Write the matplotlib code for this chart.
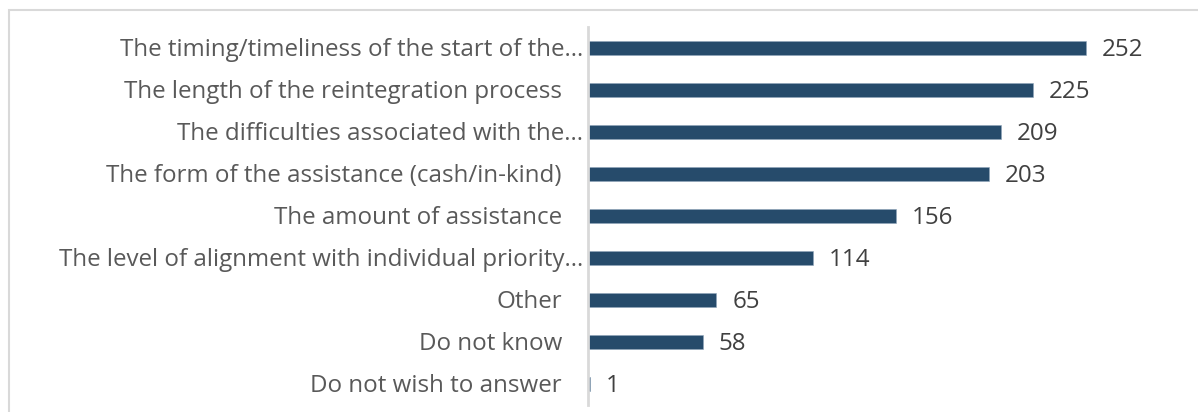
import matplotlib
matplotlib.use("Agg")
import matplotlib.pyplot as plt
from matplotlib.patches import Rectangle

plt.rcParams["font.family"] = ["Open Sans", "DejaVu Sans"]

categories = [
    "The timing/timeliness of the start of the\u2026",
    "The length of the reintegration process",
    "The difficulties associated with the\u2026",
    "The form of the assistance (cash/in-kind)",
    "The amount of assistance",
    "The level of alignment with individual priority\u2026",
    "Other",
    "Do not know",
    "Do not wish to answer",
]
values = [252, 225, 209, 203, 156, 114, 65, 58, 1]

W, H = 1198, 412
fig = plt.figure(figsize=(W / 100, H / 100), dpi=100)

# light frame around the chart area
fig.patches.append(Rectangle((8.5 / W, -0.1), 1.2, 1.1 - 10.5 / H,
                             transform=fig.transFigure, fill=False,
                             edgecolor="#D9D9D9", linewidth=1.5))

ax = fig.add_axes([588 / W, 7 / H, 610 / W, 378 / H])
n = len(categories)
ypos = list(range(n))
bar_color = "#264B6B"
ax.barh(ypos, values, height=0.31, color=bar_color, edgecolor="#8FA5BA",
        linewidth=0.4)
ax.set_ylim(n - 0.5, -0.5)
ax.set_xlim(0, 610 / 1.976)

for s in ["top", "right", "bottom"]:
    ax.spines[s].set_visible(False)
ax.spines["left"].set_color("#D9D9D9")
ax.spines["left"].set_linewidth(2)
ax.set_xticks([])
ax.set_yticks([])

fs = 17.4
for i, (lab, v) in enumerate(zip(categories, values)):
    off = 5 if lab.endswith("\u2026") else 26
    ax.annotate(lab, xy=(0, i), xycoords=("axes fraction", "data"),
                xytext=(-off, -1.5), textcoords="offset pixels",
                ha="right", va="center", fontsize=fs, color="#595959")
    ax.annotate(f"{v}", xy=(v, i), xycoords="data",
                xytext=(16, -1.5), textcoords="offset pixels",
                ha="left", va="center", fontsize=fs, color="#404040")

fig.savefig("out.png", dpi=100)
